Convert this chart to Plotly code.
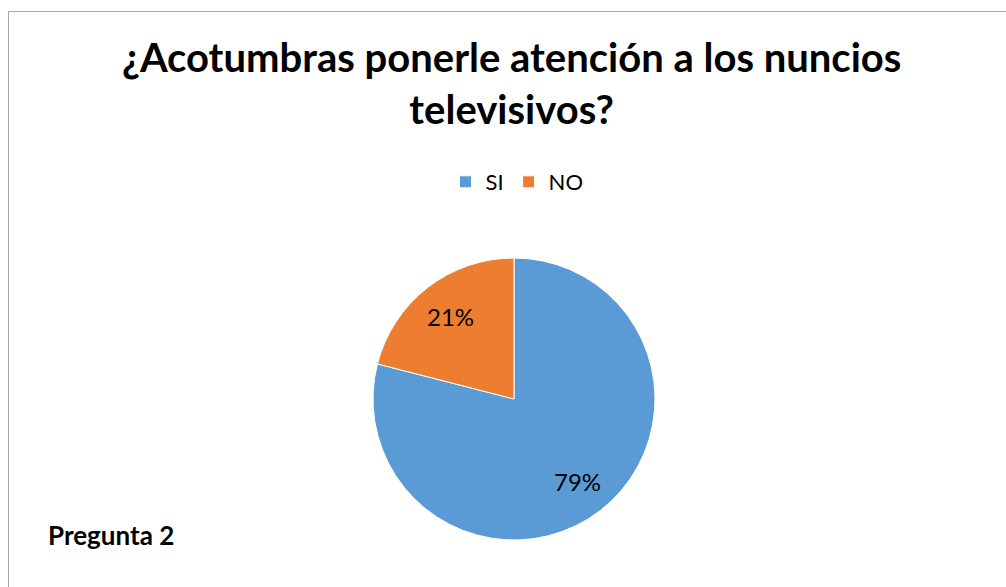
import numpy as np
import plotly.graph_objects as go

# Survey answers
labels = ["SI", "NO"]
shares = [79, 21]
colors = ["#5B9BD5", "#ED7D31"]

W, H = 1006, 587
cx, cy, r = 514, 399, 141

fig = go.Figure(
    go.Pie(
        labels=labels,
        values=shares,
        sort=False,
        direction="clockwise",
        rotation=0,
        marker=dict(colors=colors, line=dict(color="white", width=1)),
        textinfo="none",
        hoverinfo="label+percent",
        domain=dict(
            x=[(cx - r) / W, (cx + r) / W],
            y=[1 - (cy + r) / H, 1 - (cy - r) / H],
        ),
    )
)

# Percentage labels placed along each slice's bisector
vals = np.array(shares, dtype=float)
frac = vals / vals.sum()
mid = (np.cumsum(frac) - frac / 2) * 2 * np.pi  # clockwise from 12 o'clock
label_r = 0.74 * r
pct_annotations = [
    dict(
        text=f"{p:.0%}",
        xref="paper",
        yref="paper",
        x=(cx + label_r * np.sin(a)) / W,
        y=1 - (cy - label_r * np.cos(a)) / H,
        xanchor="center",
        yanchor="middle",
        showarrow=False,
        font=dict(family="Lato", size=24, color="#000000"),
    )
    for p, a in zip(frac, mid)
]

fig.update_layout(
    width=W,
    height=H,
    margin=dict(l=0, r=0, t=0, b=0),
    paper_bgcolor="white",
    plot_bgcolor="white",
    font=dict(family="Lato", color="#000000"),
    legend=dict(
        orientation="h",
        x=517 / W,
        xanchor="center",
        y=1 - 161 / H,
        yanchor="top",
        font=dict(family="Lato", size=22, color="#000000"),
        itemwidth=30,
        traceorder="normal",
    ),
    shapes=[
        dict(
            type="rect",
            xref="paper",
            yref="paper",
            x0=8.5 / W,
            x1=1.02,
            y0=-0.02,
            y1=1 - 11.5 / H,
            line=dict(color="#A6A6A6", width=1),
            fillcolor="rgba(0,0,0,0)",
        )
    ],
    annotations=[
        dict(
            text="<b>¿Acotumbras ponerle atención a los nuncios<br>televisivos?</b>",
            xref="paper",
            yref="paper",
            x=512 / W,
            xanchor="center",
            y=1 - 31 / H,
            yanchor="top",
            showarrow=False,
            font=dict(family="Lato", size=40, color="#000000"),
        ),
        dict(
            text="<b>Pregunta 2</b>",
            xref="paper",
            yref="paper",
            x=46 / W,
            xanchor="left",
            y=1 - 535 / H,
            yanchor="middle",
            showarrow=False,
            font=dict(family="Lato", size=26, color="#000000"),
        ),
    ]
    + pct_annotations,
)

fig.write_html("out.html")
